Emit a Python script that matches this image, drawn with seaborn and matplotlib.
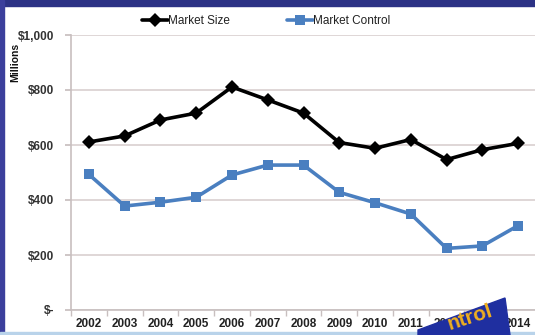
import matplotlib
matplotlib.use("Agg")
import matplotlib.pyplot as plt
import seaborn as sns
import pandas as pd
from matplotlib.patches import Rectangle, Polygon
from matplotlib.ticker import FixedLocator

years = [2002, 2003, 2004, 2005, 2006, 2007, 2008, 2009, 2010, 2011, 2012, 2013, 2014]
market_size = [611, 633, 691, 716, 811, 764, 716, 609, 588, 620, 547, 583, 606]
market_control = [493, 378, 392, 410, 491, 527, 527, 428, 390, 349, 224, 233, 307]
y_ticks = [0, 200, 400, 600, 800, 1000]
y_tick_labels = ["$-", "$200", "$400", "$600", "$800", "$1,000"]

df = pd.DataFrame({
    "Year": years * 2,
    "Value": market_size + market_control,
    "Series": ["Market Size"] * len(years) + ["Market Control"] * len(years),
})

sns.set_theme(style="white")
plt.rcParams["font.family"] = ["Liberation Sans", "DejaVu Sans"]

fig = plt.figure(figsize=(5.35, 3.35), dpi=100)
ax = fig.add_axes([71 / 535, 25 / 335, 465 / 535, 275 / 335])

sns.lineplot(data=df, x="Year", y="Value", hue="Series", style="Series",
             palette={"Market Size": "#000000", "Market Control": "#4a7fc0"},
             markers={"Market Size": "D", "Market Control": "s"},
             dashes=False, linewidth=2.6, markersize=7, markeredgewidth=0,
             ax=ax, legend=True)

ax.set_xlim(2001.5, 2014.5)
ax.set_ylim(0, 1000)
ax.set_xticks(years)
ax.set_xticklabels([str(y) for y in years], fontsize=8.5, fontweight="bold", color="#222222")
ax.xaxis.set_minor_locator(FixedLocator([y + 0.5 for y in range(2001, 2015)]))
ax.tick_params(axis="x", which="major", length=0, pad=6)
ax.tick_params(axis="x", which="minor", length=4, color="#c8bfbf", direction="out", bottom=True)
ax.set_yticks(y_ticks)
ax.set_yticklabels(y_tick_labels, fontsize=8.5, fontweight="bold", color="#333333")
ax.tick_params(axis="y", which="major", length=4, color="#c8bfbf", left=True, pad=8)
ax.yaxis.grid(True, color="#d9cfcf", linewidth=1.2)
ax.set_axisbelow(True)
ax.set_xlabel("")
ax.set_ylabel("Millions", fontsize=7.5, fontweight="bold", color="#111111", labelpad=4)
ax.yaxis.set_label_coords(-0.11, 0.9)
for s in ["top", "right"]:
    ax.spines[s].set_visible(False)
for s in ["left", "bottom"]:
    ax.spines[s].set_color("#c8bfbf")
    ax.spines[s].set_linewidth(1.2)

handles, labels = ax.get_legend_handles_labels()
ax.legend(handles, labels, loc="center", bbox_to_anchor=(0.42, 1.05), ncol=2,
          frameon=False, fontsize=8.5, handlelength=2.2, handletextpad=0.0,
          columnspacing=4.8, labelcolor="#222222")

# frame decorations
fig.patches.append(Rectangle((0, 1 - 6 / 335), 1, 6 / 335, transform=fig.transFigure,
                             color="#2c3285", zorder=10))
fig.patches.append(Rectangle((0, 0), 4 / 535, 1, transform=fig.transFigure,
                             color="#3b3f9c", zorder=10))
fig.patches.append(Rectangle((0, 0), 1, 3 / 335, transform=fig.transFigure,
                             color="#b9d3ea", zorder=10))

# partial banner overlay at bottom right
W, H = 535, 335
banner = [(418 / W, 0), (510 / W, 0), (505 / W, (H - 298) / H), (418 / W, (H - 330) / H)]
fig.patches.append(Polygon(banner, closed=True, transform=fig.transFigure,
                           color="#1f2fa0", zorder=11))
fig.text(470 / W, (H - 318) / H, "ntrol", rotation=18, fontsize=15, fontweight="bold",
         color="#f0b020", ha="center", va="center", zorder=12)

fig.savefig("out.png", dpi=100)
